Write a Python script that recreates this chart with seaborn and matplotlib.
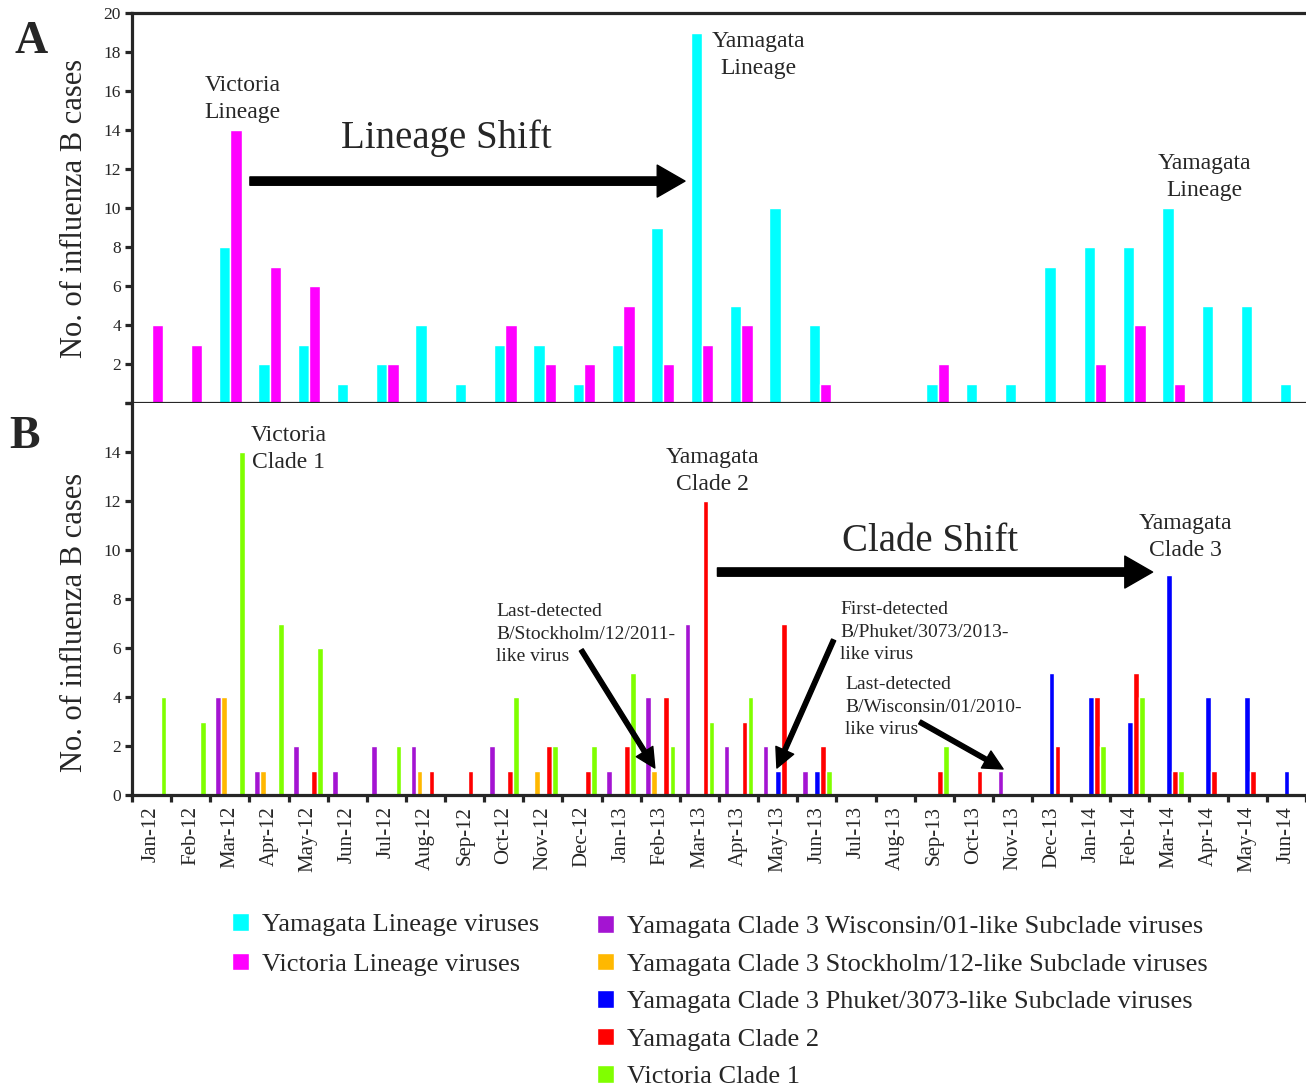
import numpy as np
import pandas as pd
import matplotlib.pyplot as plt
import seaborn as sns

months = ['Jan-12', 'Feb-12', 'Mar-12', 'Apr-12', 'May-12', 'Jun-12', 'Jul-12', 'Aug-12',
          'Sep-12', 'Oct-12', 'Nov-12', 'Dec-12', 'Jan-13', 'Feb-13', 'Mar-13', 'Apr-13',
          'May-13', 'Jun-13', 'Jul-13', 'Aug-13', 'Sep-13', 'Oct-13', 'Nov-13', 'Dec-13',
          'Jan-14', 'Feb-14', 'Mar-14', 'Apr-14', 'May-14', 'Jun-14']

# panel A - lineages
yamagata_lineage = [0, 0, 8, 2, 3, 1, 2, 4, 1, 3, 3, 1, 3, 9, 19, 5, 10, 4, 0, 0, 1, 1, 1, 7, 8, 8, 10, 5, 5, 1]
victoria_lineage = [4, 3, 14, 7, 6, 0, 2, 0, 0, 4, 2, 2, 5, 2, 3, 4, 0, 1, 0, 0, 2, 0, 0, 0, 2, 4, 1, 0, 0, 0]

# panel B - clades
wisconsin = [0, 0, 4, 1, 2, 1, 2, 2, 0, 2, 0, 0, 1, 4, 7, 2, 2, 1, 0, 0, 0, 0, 1, 0, 0, 0, 0, 0, 0, 0]
stockholm = [0, 0, 4, 1, 0, 0, 0, 1, 0, 0, 1, 0, 0, 1, 0, 0, 0, 0, 0, 0, 0, 0, 0, 0, 0, 0, 0, 0, 0, 0]
phuket = [0, 0, 0, 0, 0, 0, 0, 0, 0, 0, 0, 0, 0, 0, 0, 0, 1, 1, 0, 0, 0, 0, 0, 5, 4, 3, 9, 4, 4, 1]
clade2 = [0, 0, 0, 0, 1, 0, 0, 1, 1, 1, 2, 1, 2, 4, 12, 3, 7, 2, 0, 0, 1, 1, 0, 2, 4, 5, 1, 1, 1, 0]
victoria_clade1 = [4, 3, 14, 7, 6, 0, 2, 0, 0, 4, 2, 2, 5, 2, 3, 4, 0, 1, 0, 0, 2, 0, 0, 0, 2, 4, 1, 0, 0, 0]

labels_a = ['Yamagata Lineage viruses', 'Victoria Lineage viruses']
colors_a = ['#00FFFF', '#FF00FF']
labels_b = ['Yamagata Clade 3 Wisconsin/01-like Subclade viruses',
            'Yamagata Clade 3 Stockholm/12-like Subclade viruses',
            'Yamagata Clade 3 Phuket/3073-like Subclade viruses',
            'Yamagata Clade 2', 'Victoria Clade 1']
colors_b = ['#A414D2', '#FFB800', '#0000FF', '#FF0000', '#80FF00']

df_a = pd.concat([pd.DataFrame({'month': months, 'count': v, 'series': lab})
                  for v, lab in zip([yamagata_lineage, victoria_lineage], labels_a)])
df_b = pd.concat([pd.DataFrame({'month': months, 'count': v, 'series': lab})
                  for v, lab in zip([wisconsin, stockholm, phuket, clade2, victoria_clade1], labels_b)])

sns.set_style('ticks')
plt.rcParams['font.family'] = ['Liberation Serif', 'DejaVu Serif']

W, H = 1306, 1089
fig = plt.figure(figsize=(W / 100, H / 100), dpi=100)
ax_a = fig.add_axes([132 / W, 1 - 403 / H, 1 - 132 / W, 390 / H])
ax_b = fig.add_axes([132 / W, 1 - 795 / H, 1 - 132 / W, 392 / H])

sns.barplot(data=df_a, x='month', y='count', hue='series', order=months, hue_order=labels_a,
            palette=colors_a, width=0.575, gap=0, saturation=1, errorbar=None, ax=ax_a)
sns.barplot(data=df_b, x='month', y='count', hue='series', order=months, hue_order=labels_b,
            palette=colors_b, width=0.77, gap=0.06, saturation=1, errorbar=None, ax=ax_b)

h_a, l_a = ax_a.get_legend_handles_labels()
h_b, l_b = ax_b.get_legend_handles_labels()
ax_a.get_legend().remove()
ax_b.get_legend().remove()

lw = 2.3
for ax in (ax_a, ax_b):
    ax.set_xlim(-0.5, 29.37)
    ax.spines['right'].set_visible(False)
    ax.spines['left'].set_linewidth(lw)
    ax.spines['bottom'].set_linewidth(lw)
    ax.spines['top'].set_linewidth(lw)
    ax.set_xlabel('')
    ax.tick_params(axis='y', direction='out', length=5, width=lw, labelsize=12.5, pad=3)
    ax.set_ylabel('No. of influenza B cases', fontsize=22, va='center')
    ax.yaxis.set_label_coords(-57 / 1174, 0.5)

# panel A
ax_a.set_ylim(0, 20)
ax_a.set_yticks(range(0, 21, 2))
ax_a.set_yticklabels([''] + [str(v) for v in range(2, 21, 2)])
ax_a.set_xticks([])

# panel B
ax_b.spines['top'].set_visible(False)
ax_b.set_ylim(0, 16)
ax_b.set_yticks(range(0, 17, 2))
ax_b.set_yticklabels([str(v) for v in range(0, 15, 2)] + [''])
ax_b.set_xticks(range(len(months)))
ax_b.set_xticklabels(months, rotation=90, fontsize=15)
ax_b.set_xticks(np.arange(-0.5, 29.6, 1), minor=True)
ax_b.tick_params(axis='x', which='major', length=0, pad=8)
ax_b.tick_params(axis='x', which='minor', direction='out', length=5, width=lw)
ax_b.yaxis.set_label_coords(-57 / 1174, 0.44)

big_arrow = dict(facecolor='black', edgecolor='black', width=6, headwidth=23, headlength=20, shrink=0)
small_arrow = dict(facecolor='black', edgecolor='black', width=3.2, headwidth=14, headlength=14, shrink=0)

# annotations panel A
ax_a.text(2.32, 15.6, 'Victoria\nLineage', ha='center', va='center', fontsize=17, linespacing=1.4)
ax_a.text(15.43, 17.85, 'Yamagata\nLineage', ha='center', va='center', fontsize=17, linespacing=1.4)
ax_a.text(26.78, 11.6, 'Yamagata\nLineage', ha='center', va='center', fontsize=17, linespacing=1.4)
ax_a.text(7.49, 13.6, 'Lineage Shift', ha='center', va='center', fontsize=28)
ax_a.annotate('', xy=(13.57, 11.38), xytext=(2.5, 11.38), arrowprops=big_arrow)

# annotations panel B
ax_b.text(3.5, 14.12, 'Victoria\nClade 1', ha='center', va='center', fontsize=17, linespacing=1.4)
ax_b.text(14.33, 13.22, 'Yamagata\nClade 2', ha='center', va='center', fontsize=17, linespacing=1.4)
ax_b.text(26.42, 10.53, 'Yamagata\nClade 3', ha='center', va='center', fontsize=17, linespacing=1.4)
ax_b.text(19.88, 10.33, 'Clade Shift', ha='center', va='center', fontsize=28)
ax_b.annotate('', xy=(25.58, 9.1), xytext=(14.46, 9.1), arrowprops=big_arrow)

ax_b.text(8.81, 6.57, 'Last-detected\nB/Stockholm/12/2011-\nlike virus', ha='left', va='center',
          fontsize=14, linespacing=1.4)
ax_b.annotate('', xy=(12.86, 1.1), xytext=(10.98, 5.92), arrowprops=small_arrow)
ax_b.text(17.59, 6.65, 'First-detected\nB/Phuket/3073/2013-\nlike virus', ha='left', va='center',
          fontsize=14, linespacing=1.4)
ax_b.annotate('', xy=(15.98, 1.1), xytext=(17.43, 6.33), arrowprops=small_arrow)
ax_b.text(17.72, 3.59, 'Last-detected\nB/Wisconsin/01/2010-\nlike virus', ha='left', va='center',
          fontsize=14, linespacing=1.4)
ax_b.annotate('', xy=(21.76, 1.06), xytext=(19.63, 2.98), arrowprops=small_arrow)

fig.text(31 / W, 1 - 42 / H, 'A', fontsize=33, fontweight='bold', ha='center', va='center')
fig.text(25 / W, 1 - 437 / H, 'B', fontsize=33, fontweight='bold', ha='center', va='center')

leg_kw = dict(loc='upper left', frameon=False, fontsize=19, handlelength=0.65, handleheight=0.65,
              handletextpad=0.5, borderpad=0, borderaxespad=0)
fig.legend(h_a, l_a, bbox_to_anchor=(232 / W, 1 - 913 / H), labelspacing=0.63, **leg_kw)
fig.legend(h_b, l_b, bbox_to_anchor=(597 / W, 1 - 915 / H), labelspacing=0.55, **leg_kw)

fig.savefig('out.png', dpi=100)
